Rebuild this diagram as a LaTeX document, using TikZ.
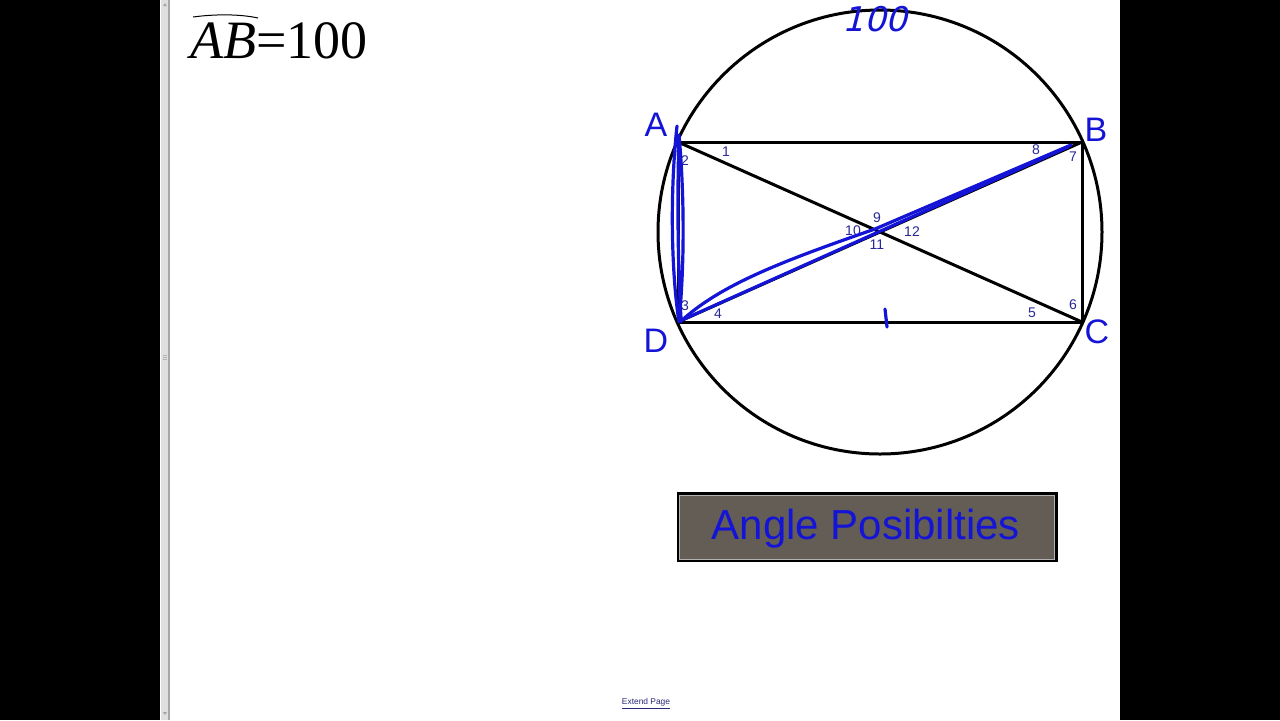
\documentclass[tikz,border=0pt]{standalone}
\usepackage{fontspec}
\setmainfont{Liberation Serif}
\newfontfamily\labelfont{Liberation Sans}
\newfontfamily\handfont{DejaVu Sans}
\definecolor{penBlue}{RGB}{20,20,215}
\definecolor{numBlue}{RGB}{40,40,150}
\definecolor{boxGray}{RGB}{99,93,86}
\definecolor{linkBlue}{RGB}{40,40,120}
\tikzset{
  vertex/.style={text=penBlue,font=\labelfont\fontsize{17}{20}\selectfont,inner sep=0pt},
  anglenum/.style={text=numBlue,font=\labelfont\fontsize{7}{8}\selectfont,inner sep=0pt},
  pen/.style={penBlue,line width=1.6pt,line cap=round,line join=round},
  edge/.style={black,line width=1.5pt}
}
\begin{document}
\begin{tikzpicture}[x=0.5pt,y=-0.5pt]
        \useasboundingbox (0,0) rectangle (1280,720);
        % page
        \fill[black] (0,0) rectangle (1280,720);
        \fill[white] (160,0) rectangle (1120,720);
        \fill[gray!25] (161,0) rectangle (169,720);
        \draw[gray!70,line width=1pt] (169,0) -- (169,720);
        \fill[gray!70] (163,6) -- (167,6) -- (165,3) -- cycle;
        \fill[gray!70] (163,712) -- (167,712) -- (165,715) -- cycle;
        \draw[gray!60,line width=0.4pt] (163,355) -- (167,355) (163,357) -- (167,357) (163,359) -- (167,359);
        % title
        \node[anchor=base west,inner sep=0pt,font=\fontsize{27}{32}\selectfont] (title) at (190,58) {$\mathit{AB}$=100};
        \draw[black,line width=0.5pt] (193,17) .. controls (215,14) and (240,14) .. (258,18);
        % circle and rectangle
        \coordinate (O) at (880,232);
        \coordinate (A) at (678,142);
        \coordinate (B) at (1082,142);
        \coordinate (C) at (1082,322);
        \coordinate (D) at (678,322);
        \draw[edge] (O) circle[radius=222];
        \draw[edge] (A) -- (B) -- (C) -- (D) -- cycle;
        \draw[edge] (A) -- (C);
        \draw[edge] (B) -- (D);
        % vertex labels
        \node[vertex] (lA) at (656,125) {A};
        \node[vertex] (lB) at (1096,130) {B};
        \node[vertex] (lC) at (1097,332) {C};
        \node[vertex] (lD) at (656,341) {D};
        % angle numbers
        \node[anglenum] (n1) at (726,152) {1};
        \node[anglenum] (n2) at (685,161) {2};
        \node[anglenum] (n3) at (685,306) {3};
        \node[anglenum] (n4) at (718,314) {4};
        \node[anglenum] (n5) at (1032,313) {5};
        \node[anglenum] (n6) at (1073,305) {6};
        \node[anglenum] (n7) at (1073,157) {7};
        \node[anglenum] (n8) at (1036,150) {8};
        \node[anglenum] (n9) at (877,218) {9};
        \node[anglenum] (n10) at (853,231) {10};
        \node[anglenum] (n11) at (877,245) {11};
        \node[anglenum] (n12) at (912,232) {12};
        % pen strokes
        \draw[pen] (677,126) .. controls (670,190) and (671,270) .. (679,322)
                   .. controls (685,260) and (684,190) .. (679,135)
                   .. controls (677,200) and (678,270) .. (681,318);
        \draw[pen] (680,322) .. controls (720,285) and (780,262) .. (875,229) -- (1071,145);
        \draw[pen] (682,320) -- (1068,147);
        \draw[pen] (885,309) -- (887,327);
        \node[text=penBlue,font=\handfont\fontsize{17}{20}\selectfont,xslant=0.25,inner sep=0pt] (arc) at (878,19) {100};
        % button
        \node[draw=black,line width=1.5pt,fill=boxGray,minimum width=189pt,minimum height=33.5pt,inner sep=0pt] (btn) at (867,527) {};
        \draw[gray!60,line width=0.4pt] ([shift={(3,3)}]btn.north west) rectangle ([shift={(-3,-3)}]btn.south east);
        \node[text=penBlue,font=\labelfont\fontsize{21}{24}\selectfont,inner sep=0pt] (btntext) at (866,529) {Angle Posibilties};
        % link
        \node[text=linkBlue,font=\labelfont\fontsize{4.2}{5}\selectfont,inner sep=0pt] (link) at (646,704) {\underline{Extend Page}};
\end{tikzpicture}
\end{document}
